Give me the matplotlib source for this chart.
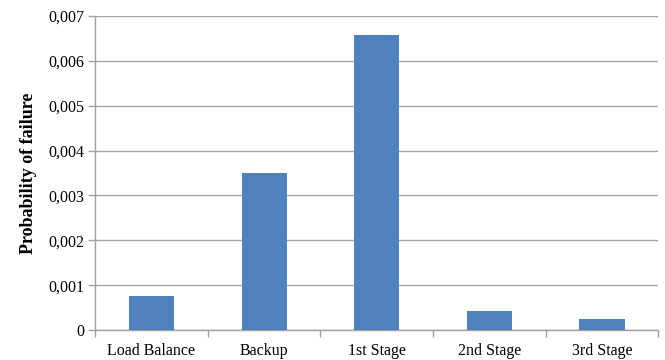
import matplotlib.pyplot as plt
import numpy as np
from matplotlib.ticker import FuncFormatter, FixedLocator

categories = ["Load Balance", "Backup", "1st Stage", "2nd Stage", "3rd Stage"]
probabilities = [0.00076, 0.0035, 0.00657, 0.00042, 0.00025]

plt.rcParams['font.family'] = ['Liberation Serif', 'DejaVu Serif']

fig = plt.figure(figsize=(6.65, 3.6), dpi=100)
ax = fig.add_axes([0.143, 0.083, 0.847, 0.873])

x = np.arange(len(categories))
ax.bar(x, probabilities, width=0.4, color='#4F81BD', zorder=3)

ax.set_xlim(-0.5, len(categories) - 0.5)
ax.set_ylim(0, 0.007)
ax.set_yticks(np.arange(0, 0.0071, 0.001))

def fmt(v, pos):
    if abs(v) < 1e-12:
        return "0"
    return f"{v:.3f}".replace(".", ",")

ax.yaxis.set_major_formatter(FuncFormatter(fmt))
ax.grid(axis='y', color='#a6a6a6', linewidth=1, zorder=0)

# category labels centred, tick marks on the boundaries
ax.set_xticks(x)
ax.set_xticklabels(categories)
ax.tick_params(axis='x', length=0, labelsize=11.5, pad=9)
ax.xaxis.set_minor_locator(FixedLocator(np.arange(-0.5, len(categories), 1)))
ax.tick_params(axis='x', which='minor', length=5, color='#a0a0a0', width=1)
ax.tick_params(axis='y', length=5, color='#a0a0a0', width=1, labelsize=11.5, pad=3)

for side in ['top', 'right']:
    ax.spines[side].set_visible(False)
for side in ['left', 'bottom']:
    ax.spines[side].set_color('#a0a0a0')
    ax.spines[side].set_linewidth(1)

ax.set_ylabel("Probability of failure", fontweight='bold', fontsize=13, labelpad=8)

fig.savefig("out.png", dpi=100)
